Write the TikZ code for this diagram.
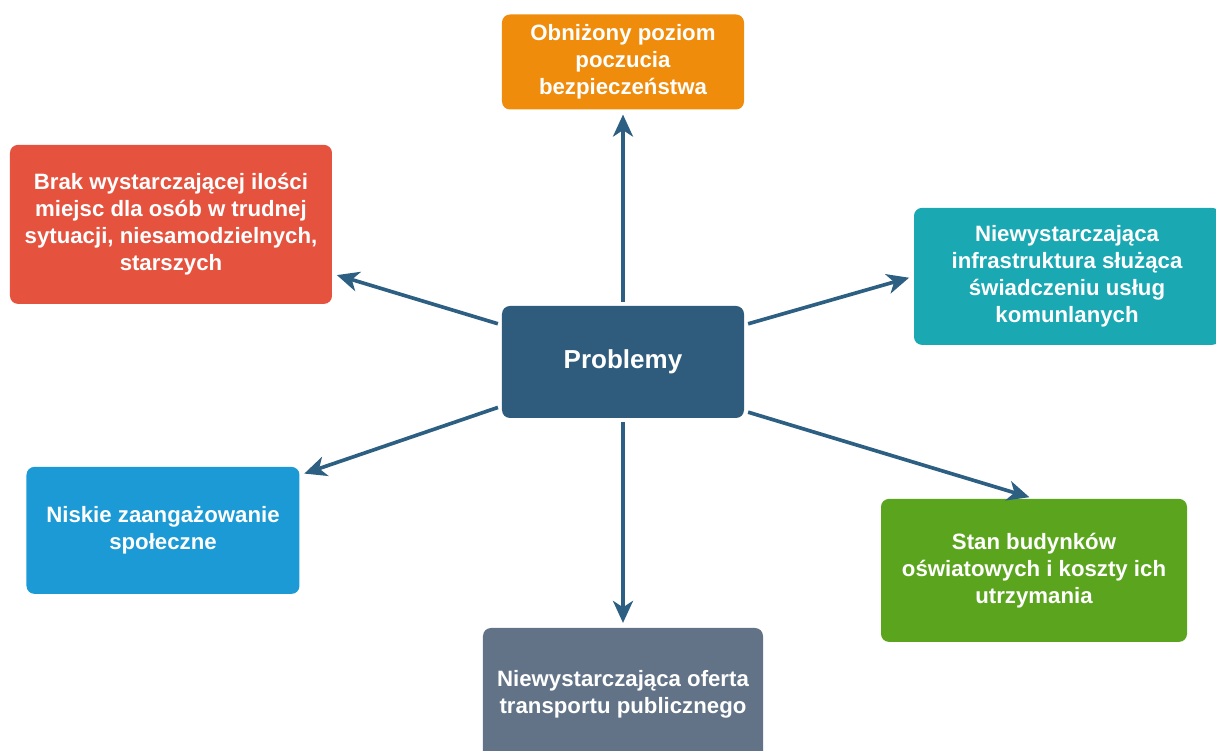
\documentclass[tikz,border=0pt]{standalone}
\usepackage{fontspec}
\setmainfont{Liberation Sans}
\usetikzlibrary{arrows.meta}
\usetikzlibrary{shapes}

\definecolor{problemblue}{HTML}{2F5B7C}
\definecolor{boxorange}{HTML}{F08C0C}
\definecolor{boxred}{HTML}{E5533F}
\definecolor{boxteal}{HTML}{1AA8B3}
\definecolor{boxblue}{HTML}{1B9AD5}
\definecolor{boxgreen}{HTML}{5BA51E}
\definecolor{boxgray}{HTML}{627388}
\definecolor{arrowblue}{HTML}{2D5F82}

\begin{document}
\begin{tikzpicture}[node distance=7.5cm, auto]
\tikzstyle{block} = [ rectangle, draw=none, text=white, align=center, inner sep=0pt, rounded corners=0.2cm, font=\bfseries\fontsize{15.8}{19.2}\selectfont ]
\tikzstyle{center} = [ block, fill=problemblue, minimum width=6.05cm, minimum height=2.8cm, font=\bfseries\fontsize{18.5}{22}\selectfont ]
\tikzstyle{line} = [ draw=arrowblue, line width=2.6pt, -{Stealth[length=5.5mm, width=5mm, inset=1.6mm]}, shorten <=0.1cm, shorten >=0.12cm ]
\useasboundingbox (-15.575,-9.725) rectangle (14.825,9.05);
% place nodes
\node [center] (problemy) at (0,0) {Problemy} ;
\node [block, above of=problemy, fill=boxorange, minimum width=6.05cm, minimum height=2.375cm] (poziom) {Obniżony poziom\\poczucia\\bezpieczeństwa} ;
\node [block, left of=problemy, node distance=11.3cm, yshift=3.44cm, fill=boxred, minimum width=8.05cm, minimum height=3.975cm] (brak) {Brak wystarczającej ilości\\miejsc dla osób w trudnej\\sytuacji, niesamodzielnych,\\starszych} ;
\node [block, right of=problemy, node distance=11.1cm, yshift=2.14cm, fill=boxteal, minimum width=7.65cm, minimum height=3.425cm] (infra) {Niewystarczająca\\infrastruktura służąca\\świadczeniu usług\\komunlanych} ;
\node [block, left of=problemy, node distance=11.5cm, yshift=-4.21cm, fill=boxblue, minimum width=6.825cm, minimum height=3.175cm] (niskie) {Niskie zaangażowanie\\społeczne} ;
\node [block, right of=problemy, node distance=10.275cm, yshift=-5.21cm, fill=boxgreen, minimum width=7.65cm, minimum height=3.575cm] (stan) {Stan budynków\\oświatowych i koszty ich\\utrzymania} ;
\node [block, below of=problemy, node distance=8.3cm, fill=boxgray, minimum width=7cm, minimum height=3.3cm] (transport) {Niewystarczająca oferta\\transportu publicznego} ;

% draw edges
\path [line] (problemy.north) -- (poziom.south) ;
\path [line] (problemy.163) -- (brak.343) ;
\path [line] (problemy.17) -- (infra.west) ;
\path [line] (problemy.200) -- (niskie.22) ;
\path [line] (problemy.338) -- (stan.north) ;
\path [line] (problemy.south) -- (transport.north) ;

\end{tikzpicture}
\end{document}
